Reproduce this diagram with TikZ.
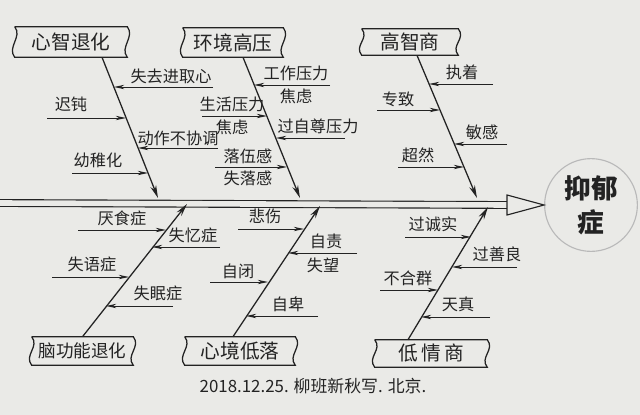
\documentclass[tikz,border=0pt]{standalone}
\usepackage{fontspec}
\setmainfont{Noto Sans CJK SC}
\usetikzlibrary{arrows.meta}
\definecolor{paper}{RGB}{234,234,231}
\definecolor{ink}{RGB}{35,35,35}

\begin{document}
\begin{tikzpicture}[x=0.025cm, y=-0.025cm,
    cause/.style={inner sep=1pt, text=ink, font=\fontsize{14}{14}\selectfont},
    scroll/.style={draw=ink, line width=0.9pt},
    lbl/.style={inner sep=1pt, text=ink, font=\fontsize{11.5}{12}\selectfont},
    bone/.style={draw=ink, line width=0.9pt, -{Stealth[length=3.2mm, width=1.5mm]}},
    twig/.style={draw=ink, line width=0.7pt, -{Stealth[length=2.6mm, width=1.1mm]}},
    spine/.style={draw=ink, line width=0.8pt, double=paper, double distance=0.14cm},
    effect/.style={circle, draw=gray!55, line width=0.8pt, minimum size=2.1cm, align=center, text=ink, font=\bfseries\fontsize{19}{24}\selectfont}]
\fill[paper] (0,0) rectangle (640,415);
\useasboundingbox (0,0) rectangle (640,415);

% head and spine
\node[effect] (head) at (591,205) {抑郁\\症};
\coordinate (tail) at (0,203);
\draw[spine] (tail) -- ([xshift=-0.925cm]head.west);
\draw[draw=ink, line width=0.8pt, fill=paper] ([xshift=-0.925cm, yshift=0.25cm]head.west) -- (head.west) -- ([xshift=-0.925cm, yshift=-0.25cm]head.west) -- cycle;

\begin{scope} % 心智退化
    \node[cause, minimum width=2.8cm, minimum height=0.75cm] (mind) at (71,42) {心智退化};
    \coordinate (mtip) at (158,198);
    \coordinate (m1) at (114,87);   \coordinate (m1e) at (213,87);
    \coordinate (m2) at (126,118);  \coordinate (m2e) at (47,118);
    \coordinate (m3) at (138,148);  \coordinate (m3e) at (218,148);
    \coordinate (m4) at (148,173);  \coordinate (m4e) at (72,173);
    \node[lbl, anchor=south] (m1t) at (171,85) {失去进取心};
    \node[lbl, anchor=south] (m2t) at (71,113) {迟钝};
    \node[lbl, anchor=south] (m3t) at (178,147) {动作不协调};
    \node[lbl, anchor=south] (m4t) at (98,170) {幼稚化};
    \draw[bone] ([xshift=0.775cm]mind.south) -- (mtip);
    \draw[twig] (m1e) -- (m1);
    \draw[twig] (m2e) -- (m2);
    \draw[twig] (m3e) -- (m3);
    \draw[twig] (m4e) -- (m4);
\end{scope}

\begin{scope} % 环境高压
    \node[cause, minimum width=2.5cm, minimum height=0.725cm] (env) at (233,42.5) {环境高压};
    \coordinate (etip) at (300,198);
    \coordinate (e1) at (254,85);   \coordinate (e1e) at (330,85);
    \coordinate (e2) at (267,116);  \coordinate (e2e) at (202,116);
    \coordinate (e3) at (276,138);  \coordinate (e3e) at (345,138);
    \coordinate (e4) at (287,167);  \coordinate (e4e) at (215,167);
    \node[lbl, anchor=south] (e1t) at (296,83) {工作压力};
    \node[lbl, anchor=north] (e1u) at (296,87) {焦虑};
    \node[lbl, anchor=south] (e2t) at (232,114) {生活压力};
    \node[lbl, anchor=north] (e2u) at (232,118) {焦虑};
    \node[lbl, anchor=south] (e3t) at (318,136) {过自尊压力};
    \node[lbl, anchor=south] (e4t) at (248,165) {落伍感};
    \node[lbl, anchor=north] (e4u) at (248,169) {失落感};
    \draw[bone] ([xshift=0.25cm]env.south) -- (etip);
    \draw[twig] (e1e) -- (e1);
    \draw[twig] (e2e) -- (e2);
    \draw[twig] (e3e) -- (e3);
    \draw[twig] (e4e) -- (e4);
\end{scope}

\begin{scope} % 高智商
    \node[cause, minimum width=2.4cm, minimum height=0.65cm] (iq) at (410,42) {高智商};
    \coordinate (qtip) at (477,198);
    \coordinate (q1) at (429,84);   \coordinate (q1e) at (493,84);
    \coordinate (q2) at (440,110);  \coordinate (q2e) at (377,110);
    \coordinate (q3) at (454,144);  \coordinate (q3e) at (507,144);
    \coordinate (q4) at (464,167);  \coordinate (q4e) at (398,167);
    \node[lbl, anchor=south] (q1t) at (462,82) {执着};
    \node[lbl, anchor=south] (q2t) at (398,108) {专致};
    \node[lbl, anchor=south] (q3t) at (482,142) {敏感};
    \node[lbl, anchor=south] (q4t) at (418,165) {超然};
    \draw[bone] ([xshift=0.175cm]iq.south) -- (qtip);
    \draw[twig] (q1e) -- (q1);
    \draw[twig] (q2e) -- (q2);
    \draw[twig] (q3e) -- (q3);
    \draw[twig] (q4e) -- (q4);
\end{scope}

\begin{scope} % 脑功能退化
    \node[cause, minimum width=2.525cm, minimum height=0.7cm, font=\fontsize{12.5}{13}\selectfont] (brain) at (82.5,351) {脑功能退化};
    \coordinate (ntip) at (187,204);
    \coordinate (n1) at (166,230);  \coordinate (n1e) at (78,230);
    \coordinate (n2) at (152,247);  \coordinate (n2e) at (220,247);
    \coordinate (n3) at (129,277);  \coordinate (n3e) at (52,277);
    \coordinate (n4) at (106,306);  \coordinate (n4e) at (173,306);
    \node[lbl, anchor=south] (n1t) at (122,228) {厌食症};
    \node[lbl, anchor=south] (n2t) at (193,245) {失忆症};
    \node[lbl, anchor=south] (n3t) at (92,274) {失语症};
    \node[lbl, anchor=south] (n4t) at (158,303) {失眠症};
    \draw[bone] (brain.north) -- (ntip);
    \draw[twig] (n1e) -- (n1);
    \draw[twig] (n2e) -- (n2);
    \draw[twig] (n3e) -- (n3);
    \draw[twig] (n4e) -- (n4);
\end{scope}

\begin{scope} % 心境低落
    \node[cause, minimum width=2.75cm, minimum height=0.7cm] (mood) at (240,351) {心境低落};
    \coordinate (dtip) at (320,206);
    \coordinate (d1) at (304,229);  \coordinate (d1e) at (238,229);
    \coordinate (d2) at (288,253);  \coordinate (d2e) at (357,253);
    \coordinate (d3) at (268,282);  \coordinate (d3e) at (210,282);
    \coordinate (d4) at (246,316);  \coordinate (d4e) at (318,316);
    \node[lbl, anchor=south] (d1t) at (265,226) {悲伤};
    \node[lbl, anchor=south] (d2t) at (326,251) {自责};
    \node[lbl, anchor=north] (d2u) at (323,256) {失望};
    \node[lbl, anchor=south] (d3t) at (238,280) {自闭};
    \node[lbl, anchor=south] (d4t) at (288,313) {自卑};
    \draw[bone] ([xshift=-0.175cm]mood.north) -- (dtip);
    \draw[twig] (d1e) -- (d1);
    \draw[twig] (d2e) -- (d2);
    \draw[twig] (d3e) -- (d3);
    \draw[twig] (d4e) -- (d4);
\end{scope}

\begin{scope} % 低情商
    \node[cause, minimum width=2.8cm, minimum height=0.675cm] (eq) at (431,353.5) {低\,情\,商};
    \coordinate (ctip) at (488,207);
    \coordinate (c1) at (471,237);  \coordinate (c1e) at (405,237);
    \coordinate (c2) at (452,267);  \coordinate (c2e) at (517,267);
    \coordinate (c3) at (438,290);  \coordinate (c3e) at (380,290);
    \coordinate (c4) at (421,317);  \coordinate (c4e) at (490,317);
    \node[lbl, anchor=south] (c1t) at (433,234) {过诚实};
    \node[lbl, anchor=south] (c2t) at (497,264) {过善良};
    \node[lbl, anchor=south] (c3t) at (408,287) {不合群};
    \node[lbl, anchor=south] (c4t) at (458,313) {天真};
    \draw[bone] ([xshift=-0.575cm]eq.north) -- (ctip);
    \draw[twig] (c1e) -- (c1);
    \draw[twig] (c2e) -- (c2);
    \draw[twig] (c3e) -- (c3);
    \draw[twig] (c4e) -- (c4);
\end{scope}

% scroll outlines round the six causes
\foreach \b in {mind, env, iq, brain, mood, eq}{
    \draw[scroll] (\b.north west) -- (\b.north east) .. controls +(8,10) and +(-8,-10) .. (\b.south east) -- (\b.south west) .. controls +(-8,-10) and +(8,10) .. (\b.north west);
}

\node[lbl, font=\fontsize{12}{12}\selectfont] (note) at (313,386) {2018.12.25. 柳班新秋写. 北京.};
\end{tikzpicture}
\end{document}
